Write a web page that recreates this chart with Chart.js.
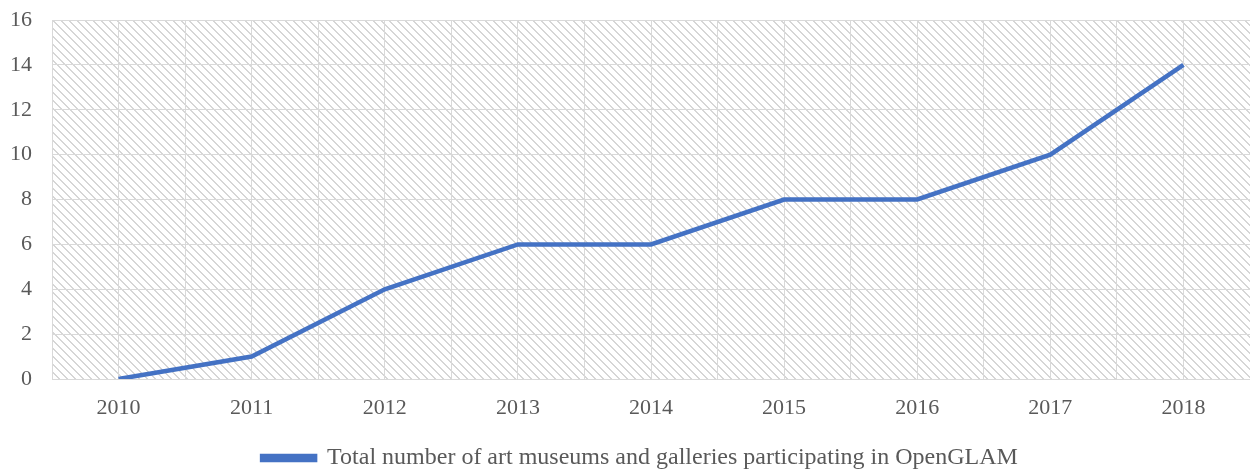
<!DOCTYPE html>
<html><head><meta charset="utf-8">
<script src="https://cdn.jsdelivr.net/npm/chart.js@4"></script>
<style>html,body{margin:0;padding:0;background:#fff}#wrap{width:1250px;height:471px}</style>
</head><body><div id="wrap"><canvas id="c"></canvas></div>
<script>
const categories = ["2010","2011","2012","2013","2014","2015","2016","2017","2018"];
const seriesName = "Total number of art museums and galleries participating in OpenGLAM";
const seriesValues = [0,1,4,6,6,8,8,10,14];
const yTicks = [0,2,4,6,8,10,12,14,16];

function makePattern(){
  const p = document.createElement('canvas'); p.width = 8; p.height = 8;
  const g = p.getContext('2d');
  g.fillStyle = '#fff'; g.fillRect(0,0,8,8);
  g.fillStyle = '#d6d6d6';
  for (let i=0;i<8;i++){ g.fillRect(i,i,1,1); g.fillRect((i+1)%8,i,1,1); }
  return p;
}
const hatch = {
  id:'hatch',
  beforeDraw(chart){
    const {ctx, chartArea:a} = chart;
    ctx.save();
    ctx.fillStyle = ctx.createPattern(makePattern(),'repeat');
    ctx.fillRect(a.left,a.top,a.right-a.left,a.bottom-a.top);
    ctx.restore();
  }
};
const shiftLegend = {
  id:'shiftLegend',
  afterLayout(chart){
    const l = chart.legend;
    if (l){ l.left += 15; l.right += 15; l.top += 9; l.bottom += 9; }
  }
};
const fam = '"Liberation Serif", "Times New Roman", serif';
const tickFont = {family:fam, size:22};
const legendFont = {family:fam, size:24};
new Chart(document.getElementById('c'), {
  type:'line',
  data:{datasets:[{label:seriesName, data:seriesValues.map((v,i)=>({x:i,y:v})),
    borderColor:'#4472C4', backgroundColor:'#4472C4', borderWidth:4.5, pointRadius:0, tension:0}]},
  options:{
    responsive:true, maintainAspectRatio:false, animation:false,
    layout:{padding:{top:0,right:0,left:0,bottom:0}},
    scales:{
      x:{type:'linear', min:-0.5, max:categories.length-0.5,
        grid:{color:'#d9d9d9', lineWidth:1, drawTicks:false},
        border:{color:'#d9d9d9'},
        afterBuildTicks(ax){ const t=[]; for(let v=-0.5; v<=categories.length-0.5+1e-9; v+=0.5) t.push({value:v}); ax.ticks=t; },
        afterFit(ax){ ax.paddingRight = 0; ax.paddingLeft = 0; ax.height = 58; },
        ticks:{autoSkip:false, maxRotation:0, padding:16, color:'#595959', font:tickFont,
          callback:(v)=> Number.isInteger(v) ? categories[v] : ''}},
      y:{min:0, max:16,
        afterBuildTicks(ax){ ax.ticks = yTicks.map(v=>({value:v})); },
        afterFit(ax){ ax.width = 52; ax.paddingTop = 20; ax.paddingBottom = 0; },
        grid:{color:'#d9d9d9', lineWidth:1, drawTicks:false},
        border:{display:false},
        ticks:{padding:20, color:'#595959', font:tickFont}}
    },
    plugins:{
      legend:{position:'bottom', labels:{color:'#595959', font:legendFont, boxWidth:53, boxHeight:4, padding:0}},
      tooltip:{enabled:false}
    }
  },
  plugins:[hatch, shiftLegend]
});
</script></body></html>
